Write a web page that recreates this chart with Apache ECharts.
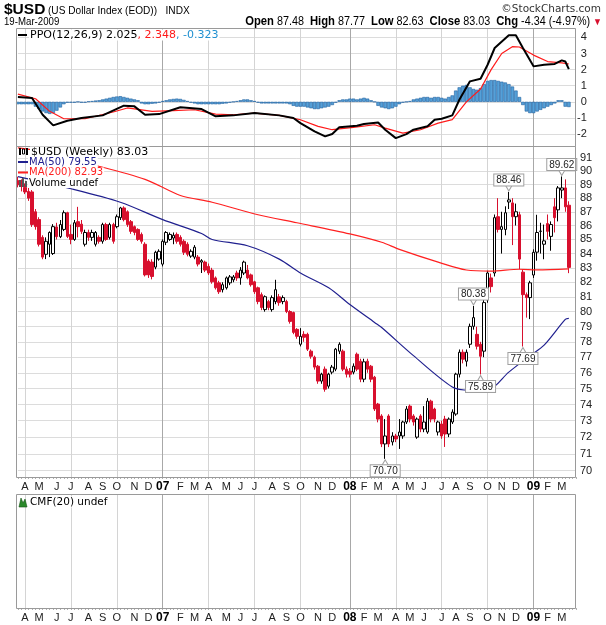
<!DOCTYPE html>
<html>
<head>
<meta charset="utf-8">
<script src="https://cdn.jsdelivr.net/npm/echarts@6/dist/echarts.min.js"></script>
<style>
  html, body { margin: 0; padding: 0; background: #fff; }
  #chart { width: 606px; height: 625px; }
</style>
</head>
<body>
<div id="chart"></div>
<script>
// weekly bars, Mondays from 20-Mar-2006 (two empty weeks at the end)
const firstWeek = Date.UTC(2006, 2, 20);
const weekCount = 159;
const weeks = [];
for (let i = 0; i < weekCount; i++) {
    weeks.push(new Date(firstWeek + i * 7 * 86400000).toISOString().slice(0, 10));
}
const monthLetters = ['J', 'F', 'M', 'A', 'M', 'J', 'J', 'A', 'S', 'O', 'N', 'D'];
const priceTicks = [70, 71, 72, 73, 74, 75, 76, 77, 78, 79, 80, 81, 82, 83, 84, 85, 86, 87, 88, 89, 90, 91];
const ppoTicks = [-2, -1, 0, 1, 2, 3, 4];

// [open, close, low, high]
const candles = [
    [89.3, 89.0, 88.8, 89.6], [89.0, 88.9, 88.5, 89.4], [88.8, 88.46, 88.3, 89.1], [88.5, 88.0, 87.8, 88.8],
    [88.46, 86.07, 85.9, 88.6], [87.0, 85.92, 85.7, 87.2], [86.43, 84.66, 84.5, 86.6], [85.15, 83.75, 83.6, 85.3],
    [83.95, 84.87, 83.61, 85.15], [84.66, 85.5, 83.75, 85.58], [84.0, 85.92, 83.9, 86.1], [85.9, 85.2, 85.0, 86.2],
    [85.2, 86.07, 85.1, 86.4], [85.72, 86.93, 85.6, 87.1], [86.93, 85.22, 85.1, 87.0], [85.36, 85.0, 84.66, 86.07],
    [85.0, 86.2, 84.9, 86.4], [86.28, 85.92, 85.15, 87.36], [86.1, 85.58, 85.4, 86.4], [84.66, 85.5, 84.5, 85.7],
    [85.5, 85.15, 84.9, 85.7], [85.15, 85.5, 84.9, 85.7], [84.66, 85.5, 84.5, 85.6], [85.15, 84.87, 84.7, 85.3],
    [84.87, 86.07, 84.7, 86.2], [86.07, 85.0, 84.9, 86.2], [85.15, 86.07, 85.0, 86.2], [86.07, 84.87, 84.7, 86.2],
    [85.92, 86.64, 85.8, 86.8], [86.57, 87.28, 86.4, 87.36], [87.28, 86.43, 86.3, 87.4], [87.0, 86.07, 85.9, 87.1],
    [86.28, 85.58, 85.4, 86.4], [85.92, 85.5, 85.3, 86.0], [85.72, 85.0, 84.9, 85.8], [85.36, 84.87, 84.7, 85.5],
    [84.66, 82.51, 82.4, 84.8], [83.47, 82.51, 82.3, 83.6], [83.4, 82.4, 82.2, 83.6], [83.05, 84.09, 82.9, 84.2],
    [83.61, 84.16, 83.5, 84.3], [83.26, 84.87, 83.1, 85.0], [84.8, 85.5, 84.6, 85.6], [85.0, 85.36, 84.9, 85.5],
    [85.1, 85.3, 84.66, 85.5], [85.36, 84.87, 84.7, 85.5], [85.15, 84.66, 84.5, 85.3], [84.87, 84.09, 83.9, 85.0],
    [84.66, 83.95, 83.8, 84.8], [83.82, 84.16, 83.7, 84.3], [83.75, 84.45, 83.6, 84.6], [83.75, 83.26, 83.1, 83.9],
    [83.4, 83.5, 82.64, 83.61], [83.4, 82.84, 82.7, 83.5], [83.1, 82.64, 82.5, 83.3], [82.84, 82.03, 81.9, 83.0],
    [82.3, 81.62, 81.5, 82.4], [81.96, 81.35, 81.2, 82.1], [81.49, 81.83, 81.3, 82.0], [81.62, 82.3, 81.5, 82.4],
    [81.96, 82.37, 81.8, 82.5], [82.17, 82.37, 82.0, 82.5], [82.64, 82.3, 82.1, 82.8], [82.3, 82.84, 81.83, 83.05],
    [82.64, 83.4, 82.5, 83.5], [82.84, 82.3, 82.2, 83.2], [82.51, 81.83, 81.7, 82.6], [82.03, 81.35, 81.2, 82.1],
    [81.62, 80.68, 80.5, 81.7], [81.15, 80.28, 80.1, 81.3], [80.14, 81.01, 80.0, 81.1], [80.68, 80.28, 80.1, 80.8],
    [80.14, 80.95, 80.0, 81.1], [80.68, 81.49, 80.5, 82.17], [81.0, 80.61, 80.4, 81.2], [80.68, 80.95, 80.5, 81.1],
    [80.68, 80.01, 79.9, 80.8], [80.01, 79.35, 79.2, 80.1], [79.94, 78.62, 78.5, 80.0], [78.82, 78.36, 78.2, 78.9],
    [77.84, 78.36, 77.7, 78.9], [78.49, 78.3, 78.0, 78.7], [78.49, 77.52, 77.4, 78.6], [77.39, 77.06, 76.9, 77.5],
    [77.0, 76.36, 76.2, 77.1], [76.42, 75.47, 75.3, 76.5], [75.47, 75.91, 75.3, 76.0], [76.23, 74.96, 74.8, 76.4],
    [75.15, 75.91, 75.0, 76.0], [76.04, 76.36, 75.9, 76.5], [76.23, 77.52, 76.1, 77.6], [77.39, 77.84, 77.2, 77.97],
    [77.39, 76.23, 76.1, 77.5], [76.23, 75.91, 75.7, 76.4], [76.1, 75.91, 75.7, 76.3], [76.04, 76.42, 75.9, 76.6],
    [77.19, 76.23, 76.1, 77.3], [76.74, 75.59, 75.4, 76.9], [75.59, 76.7, 75.4, 76.9], [76.74, 76.23, 76.0, 76.9],
    [76.42, 75.59, 75.4, 76.5], [75.72, 73.72, 73.6, 75.8], [74.03, 73.1, 72.9, 74.1], [73.29, 71.59, 71.4, 73.4],
    [71.59, 72.07, 70.7, 73.1], [73.29, 71.59, 71.4, 73.4], [71.71, 72.07, 71.5, 72.3], [72.07, 71.89, 71.7, 72.2],
    [72.07, 72.31, 71.29, 73.1], [72.07, 72.92, 71.9, 73.0], [72.92, 73.72, 72.8, 73.9], [73.9, 73.1, 72.9, 74.0],
    [73.29, 72.92, 72.7, 73.4], [72.0, 73.1, 71.9, 73.2], [73.29, 72.49, 72.3, 73.4], [72.49, 72.92, 72.3, 73.9],
    [72.31, 74.21, 72.2, 74.4], [74.21, 73.1, 72.9, 74.3], [73.72, 73.1, 72.9, 73.8], [72.31, 72.92, 72.1, 73.0],
    [72.8, 72.07, 71.9, 73.0], [73.1, 72.19, 71.41, 73.3], [72.19, 73.1, 72.0, 73.2], [72.92, 73.53, 72.8, 73.7],
    [73.41, 75.91, 73.3, 76.0], [75.91, 77.32, 75.7, 77.5], [77.32, 76.87, 76.6, 77.5], [76.74, 77.32, 76.4, 77.5],
    [77.84, 79.02, 77.6, 79.2], [79.02, 79.6, 78.8, 80.38], [78.49, 77.71, 77.5, 79.0], [77.84, 77.06, 75.89, 78.0],
    [77.39, 80.61, 77.0, 80.8], [80.8, 82.64, 80.6, 82.8], [82.3, 81.7, 81.3, 82.6], [82.64, 86.57, 82.4, 86.8],
    [86.64, 85.72, 85.5, 88.0], [85.72, 85.92, 84.0, 87.0], [85.72, 86.93, 85.3, 87.4], [87.72, 87.87, 87.2, 88.46],
    [87.65, 86.64, 84.6, 88.0], [86.64, 87.0, 86.0, 87.6], [86.78, 83.61, 82.9, 87.0], [82.7, 81.15, 77.69, 82.9],
    [81.15, 80.95, 79.6, 81.3], [80.95, 81.96, 79.5, 82.1], [82.5, 84.09, 82.3, 84.3], [84.1, 85.5, 83.5, 86.78],
    [85.58, 85.6, 84.0, 86.2], [84.66, 84.9, 83.6, 86.07], [86.14, 85.58, 85.0, 86.8], [85.22, 86.07, 84.2, 86.3],
    [87.36, 86.57, 85.5, 88.0], [87.14, 88.76, 86.3, 88.9], [88.6, 88.76, 88.0, 89.62], [88.76, 87.36, 87.0, 89.4],
    [87.48, 83.03, 82.63, 87.77]
];

// moving averages, [week index, value]
const ma50 = [[0, 89.6], [15, 88.7], [29, 87.7], [41, 86.43], [52, 85.43], [55, 85.0], [65, 84.55], [74, 83.61],
    [80, 82.64], [88, 81.62], [94, 80.48], [101, 79.28], [103, 78.94], [112, 77.1], [123, 75.1], [128, 74.9],
    [133, 74.9], [139, 76.04], [145, 77.1], [149, 77.78], [155, 79.48], [156, 79.55]];
const ma200 = [[0, 91.8], [7, 91.5], [20, 90.6], [36, 89.4], [46, 88.2], [55, 87.7], [68, 86.78], [79, 86.2],
    [94, 85.4], [103, 84.8], [108, 84.3], [119, 83.4], [127, 82.85], [134, 82.77], [142, 82.9], [147, 82.86],
    [156, 82.93]];

// PPO panel
const ppoLine = [[0, 0.3], [4, 0.24], [7, -0.8], [10, -1.46], [14, -1.17], [18, -1.0], [24, -0.84], [30, -0.24],
    [33, -0.28], [36, -0.8], [40, -0.76], [46, -0.34], [52, -0.45], [56, -0.9], [61, -0.84], [67, -0.7],
    [74, -0.84], [78, -1.0], [80, -1.32], [84, -1.83], [87, -2.14], [89, -2.0], [91, -1.58], [96, -1.48],
    [98, -1.38], [102, -1.28], [104, -1.73], [107, -2.25], [110, -2.0], [112, -1.73], [116, -1.52], [118, -1.11],
    [120, -1.05], [123, -0.84], [125, 0.13], [128, 1.27], [131, 1.43], [133, 2.3], [135, 3.34], [139, 4.13],
    [141, 4.13], [143, 3.34], [146, 2.2], [149, 2.3], [152, 2.35], [154, 2.57], [155, 2.5], [156, 2.025]];
const signalLine = [[0, 0.48], [5, 0.19], [9, -0.59], [13, -1.05], [19, -1.05], [27, -0.63], [31, -0.38],
    [38, -0.59], [44, -0.55], [50, -0.49], [56, -0.76], [61, -0.8], [67, -0.7], [74, -0.84], [80, -1.11],
    [85, -1.52], [89, -1.73], [95, -1.58], [101, -1.42], [104, -1.63], [109, -1.94], [114, -1.73], [119, -1.32],
    [123, -1.1], [127, 0.0], [131, 0.8], [134, 2.0], [137, 3.0], [140, 3.42], [142, 3.4], [146, 2.9],
    [150, 2.5], [154, 2.42], [156, 2.348]];
const histogram = [
    -0.15, -0.15, -0.15, -0.15, -0.15, -0.3, -0.45, -0.6, -0.7, -0.75, -0.7, -0.55, -0.35, -0.15, -0.05,
    -0.05, -0.05, 0.0, -0.05, -0.05, 0.02, 0.05, 0.08, 0.1,
    0.15, 0.2, 0.25, 0.3, 0.33, 0.35, 0.3, 0.25, 0.2, 0.15, 0.1,
    -0.1, -0.15, -0.15, -0.12, -0.1, -0.05,
    0.05, 0.1, 0.15, 0.18, 0.2, 0.18, 0.12, 0.05,
    -0.05, -0.1, -0.15, -0.15, -0.15, -0.15, -0.15, -0.15, -0.15, -0.12, -0.1, -0.05, 0,
    0.05, 0.1, 0.15, 0.15, 0.1, 0.05,
    -0.05, -0.1, -0.1, -0.1, -0.1, -0.1, -0.1, -0.1, -0.1, -0.15,
    -0.25, -0.3, -0.3,
    -0.3, -0.35, -0.4, -0.45, -0.45, -0.4, -0.35, -0.3, -0.2,
    -0.05,
    0.1, 0.15, 0.15, 0.2, 0.2, 0.15, 0.2, 0.25, 0.2, 0.1, 0.0,
    -0.25, -0.35, -0.4, -0.45, -0.4, -0.3, -0.15,
    -0.05, 0.0, 0.05,
    0.15, 0.2, 0.25, 0.3, 0.3, 0.25, 0.3, 0.3, 0.25, 0.2, 0.3, 0.4,
    0.7, 0.9, 1.0, 1.05, 0.9, 0.8, 0.75, 0.85, 1.1,
    1.3, 1.35, 1.35, 1.3, 1.25, 1.2, 1.1, 0.95, 0.7,
    0.3, -0.2,
    -0.6, -0.7, -0.7, -0.6,
    -0.5, -0.4, -0.3, -0.2, -0.1,
    0.1, 0.1, -0.3, -0.323
];

// swing high / low callouts
const swingHighs = [[129, 80.38], [139, 88.46], [154, 89.62]];
const swingLows = [[104, 70.70], [131, 75.89], [143, 77.69]];

const chartFont = '"Liberation Sans", Arial, sans-serif';
const legendFont = '"DejaVu Sans", Verdana, sans-serif';

function weekDate(i) { return new Date(weeks[i] + 'T00:00:00Z'); }
function isMonthStart(i) { return weekDate(i).getUTCDate() <= 7; }
function isQuarterStart(i) { return isMonthStart(i) && weekDate(i).getUTCMonth() % 3 === 0 && weekDate(i).getUTCMonth() !== 0; }
function isYearStart(i) { return isMonthStart(i) && weekDate(i).getUTCMonth() === 0; }

// plotting areas (panel frames are drawn separately at x 16..576)
const grids = [
    { left: 17.9, right: 30.1, top: 28, height: 118 },
    { left: 17.9, right: 30.1, top: 146, height: 331 },
    { left: 17.9, right: 30.1, top: 494, height: 114 }
];

const xAxes = [];
grids.forEach((g, gi) => {
    const withLabels = gi > 0;
    xAxes.push({
        type: 'category', gridIndex: gi, data: weeks, boundaryGap: false,
        axisLine: { show: false },
        axisTick: { show: withLabels, interval: 0, length: 2, lineStyle: { color: '#b0b0b0' } },
        axisLabel: {
            show: withLabels, interval: (idx) => isMonthStart(idx), margin: 4,
            fontFamily: chartFont, fontSize: 11, color: '#222',
            formatter: (value) => {
                const d = new Date(value + 'T00:00:00Z');
                if (d.getUTCMonth() === 0) return '{y|' + String(d.getUTCFullYear()).slice(2) + '}';
                return monthLetters[d.getUTCMonth()];
            },
            rich: { y: { fontWeight: 'bold', fontSize: 12, fontFamily: chartFont, color: '#000' } }
        },
        splitLine: { show: true, interval: (idx) => isQuarterStart(idx), lineStyle: { color: '#d4d4d4', width: 1 } }
    });
    xAxes.push({
        type: 'category', gridIndex: gi, data: weeks, boundaryGap: false,
        axisLine: { show: false }, axisTick: { show: false }, axisLabel: { show: false },
        splitLine: { show: true, interval: (idx) => isYearStart(idx), lineStyle: { color: '#a8a8a8', width: 1 } }
    });
});

const yAxes = [
    {
        gridIndex: 0, type: 'value', position: 'right', min: -2.74, max: 4.58,
        axisLine: { show: false }, axisTick: { show: false, customValues: ppoTicks },
        axisLabel: { customValues: ppoTicks, align: 'right', margin: 11, fontFamily: chartFont, fontSize: 11, color: '#222' },
        splitLine: { show: true, customValues: ppoTicks, lineStyle: { color: '#dcdcdc' } }
    },
    {
        gridIndex: 1, type: 'log', logBase: 10, position: 'right', min: 69.63, max: 91.94,
        axisLine: { show: false }, axisTick: { show: false, customValues: priceTicks },
        axisLabel: { customValues: priceTicks, margin: 4, fontFamily: chartFont, fontSize: 11, color: '#222',
            formatter: (v) => String(Math.round(v)) },
        splitLine: { show: true, customValues: priceTicks, lineStyle: { color: '#dcdcdc' } }
    },
    { gridIndex: 2, type: 'value', min: 0, max: 1, show: false, splitLine: { show: false } }
];

const calloutLabel = {
    show: true, fontFamily: chartFont, fontSize: 10, color: '#222',
    backgroundColor: '#fff', borderColor: '#a0a0a0', borderWidth: 1, padding: [1, 2, 0, 2],
    formatter: (p) => p.value.toFixed(2)
};
const pointerStyle = { color: '#fff', borderColor: '#a0a0a0', borderWidth: 1 };
const callouts = swingHighs.map(([i, v]) => ({
        coord: [i, v], value: v, symbol: 'triangle', symbolSize: [7, 6], symbolRotate: 180, symbolOffset: [0, -4],
        itemStyle: pointerStyle, label: Object.assign({}, calloutLabel, { position: 'top', distance: -1 })
    }))
    .concat(swingLows.map(([i, v]) => ({
        coord: [i, v], value: v, symbol: 'triangle', symbolSize: [7, 6], symbolOffset: [0, 4],
        itemStyle: pointerStyle, label: Object.assign({}, calloutLabel, { position: 'bottom', distance: -1 })
    })));

const series = [
    {
        type: 'bar', xAxisIndex: 0, yAxisIndex: 0, data: histogram, barWidth: 3.5,
        itemStyle: { color: '#55a0d8', borderColor: '#1f5f9f', borderWidth: 0.6 }, silent: true
    },
    { type: 'line', xAxisIndex: 0, yAxisIndex: 0, data: signalLine, showSymbol: false, lineStyle: { color: '#ff1a1a', width: 1.2 }, silent: true },
    { type: 'line', xAxisIndex: 0, yAxisIndex: 0, data: ppoLine, showSymbol: false, lineStyle: { color: '#000', width: 2 }, silent: true },
    {
        type: 'candlestick', xAxisIndex: 2, yAxisIndex: 1, data: candles, barWidth: 3,
        itemStyle: { color: '#ffffff', color0: '#d8102e', borderColor: '#000000', borderColor0: '#d8102e', borderWidth: 1 },
        markPoint: { data: callouts, silent: true, animation: false, z: 20 },
        silent: true
    },
    { type: 'line', xAxisIndex: 2, yAxisIndex: 1, data: ma200, showSymbol: false, smooth: 0.3, lineStyle: { color: '#ff2020', width: 1.2 }, silent: true },
    { type: 'line', xAxisIndex: 2, yAxisIndex: 1, data: ma50, showSymbol: false, smooth: 0.3, lineStyle: { color: '#20208f', width: 1.2 }, silent: true }
];

function legendText(x, y, text, size, fill, rich) {
    return { type: 'text', x: x, y: y, z: 100, silent: true,
        style: { text: text, rich: rich, fontFamily: legendFont, fontSize: size, fill: fill || '#000',
            verticalAlign: 'middle', backgroundColor: '#fff', padding: [0, 1, 0, 1] } };
}
function frame(y, h) {
    return { type: 'rect', z: 90, silent: true, shape: { x: 16.5, y: y + 0.5, width: 559, height: h },
        style: { fill: 'none', stroke: '#9a9a9a', lineWidth: 1 } };
}

const graphic = [
    frame(28, 118), frame(146, 331), frame(494, 114),
    { type: 'text', x: 4, y: 10, style: { text: '$USD', verticalAlign: 'middle', fontFamily: chartFont, fontSize: 15.5, fontWeight: 'bold', fill: '#000' } },
    { type: 'text', x: 48, y: 10.5, scaleX: 0.88, style: { text: '(US Dollar Index (EOD))   INDX', verticalAlign: 'middle', fontFamily: chartFont, fontSize: 11.5, fill: '#000' } },
    { type: 'text', x: 4, y: 22, scaleX: 0.92, style: { text: '19-Mar-2009', verticalAlign: 'middle', fontFamily: chartFont, fontSize: 10.5, fill: '#000' } },
    { type: 'text', x: 601, y: 9, style: { text: '©StockCharts.com', align: 'right', verticalAlign: 'middle', fontFamily: legendFont, fontSize: 10.5, fill: '#333' } },
    { type: 'text', x: 602, y: 22, scaleX: 0.9, style: { align: 'right', verticalAlign: 'middle',
        text: '{b|Open} 87.48  {b|High} 87.77  {b|Low} 82.63  {b|Close} 83.03  {b|Chg} -4.34 (-4.97%) {r|▼}',
        fontFamily: chartFont, fontSize: 12, fill: '#000',
        rich: { b: { fontFamily: chartFont, fontWeight: 'bold', fontSize: 12.5, fill: '#000' }, r: { fill: '#d8102e', fontSize: 10 } } } },
    // PPO legend
    { type: 'line', z: 101, shape: { x1: 18, y1: 35, x2: 27, y2: 35 }, style: { stroke: '#000', lineWidth: 2 } },
    legendText(29, 35, 'PPO(12,26,9) 2.025{r|, 2.348}{b|, -0.323}', 11, '#000',
        { r: { fill: '#ff1a1a', fontFamily: legendFont, fontSize: 11 }, b: { fill: '#2090d0', fontFamily: legendFont, fontSize: 11 } }),
    // price legend
    { type: 'rect', z: 101, shape: { x: 19, y: 148, width: 2, height: 7 }, style: { fill: '#000' } },
    { type: 'rect', z: 101, shape: { x: 22.5, y: 149, width: 2, height: 5 }, style: { fill: '#fff', stroke: '#000', lineWidth: 1 } },
    { type: 'rect', z: 101, shape: { x: 26, y: 148, width: 2, height: 7 }, style: { fill: '#000' } },
    legendText(30, 152, '$USD (Weekly) 83.03', 11),
    { type: 'line', z: 101, shape: { x1: 18, y1: 162, x2: 28, y2: 162 }, style: { stroke: '#20208f', lineWidth: 2 } },
    legendText(28, 162, 'MA(50) 79.55', 10, '#20208f'),
    { type: 'line', z: 101, shape: { x1: 18, y1: 172.5, x2: 28, y2: 172.5 }, style: { stroke: '#ff2020', lineWidth: 2 } },
    legendText(28, 172.5, 'MA(200) 82.93', 10, '#ff2020'),
    { type: 'rect', z: 101, shape: { x: 19, y: 180, width: 2, height: 7 }, style: { fill: '#555' } },
    { type: 'rect', z: 101, shape: { x: 22, y: 178, width: 2, height: 9 }, style: { fill: '#555' } },
    { type: 'rect', z: 101, shape: { x: 25, y: 181, width: 2, height: 6 }, style: { fill: '#555' } },
    legendText(28, 183, 'Volume undef', 10),
    // CMF legend
    { type: 'polygon', z: 101, shape: { points: [[19, 507], [21, 498], [23, 503], [25, 499], [27, 507]] }, style: { fill: '#2a8a2a', stroke: '#145214', lineWidth: 0.6 } },
    legendText(29, 502, 'CMF(20) undef', 10.5)
];

const chart = echarts.init(document.getElementById('chart'), null, { renderer: 'canvas' });
chart.setOption({
    animation: false,
    backgroundColor: '#fff',
    grid: grids.map(g => Object.assign({ show: false }, g)),
    xAxis: xAxes,
    yAxis: yAxes,
    series: series,
    graphic: graphic
});
</script>
</body>
</html>
